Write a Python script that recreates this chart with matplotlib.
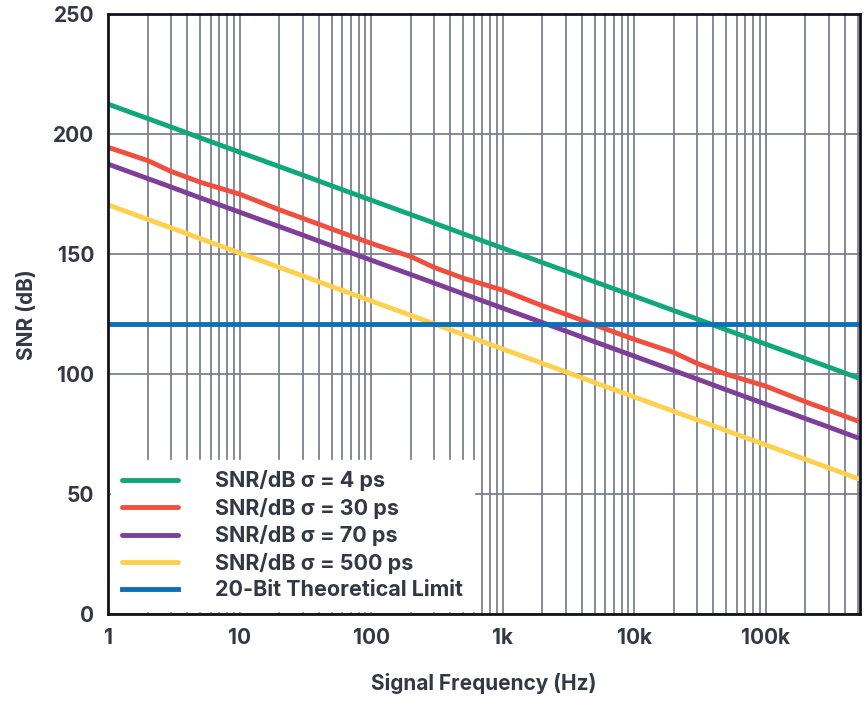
import numpy as np
import matplotlib.pyplot as plt
from matplotlib.ticker import FixedLocator, NullFormatter

freq = [1, 2, 3, 5, 10, 20, 30, 50, 100, 200, 300, 500, 1e3, 2e3, 3e3, 5e3, 1e4,
        2e4, 3e4, 5e4, 1e5, 2e5, 3e5, 5e5]
snr_4ps = [212.5, 206.5, 203, 198.5, 192.5, 186.5, 183, 178.5, 172.5, 166.5, 163,
           158.5, 152.5, 146.5, 143, 138.5, 132.5, 126.5, 123, 118.5, 112.5, 106.5, 103, 98.5]
snr_30ps = [194.5, 189, 184.5, 180, 175, 168.5, 165, 160.5, 154.5, 149, 144.5, 140,
            135, 128.5, 125, 120.5, 114.5, 109, 104.5, 100, 95, 88.5, 85, 80.5]
snr_70ps = [187.5, 181.5, 178, 173.5, 167.5, 161.5, 158, 153.5, 147.5, 141.5, 138,
            133.5, 127.5, 121.5, 118, 113.5, 107.5, 101.5, 98, 93.5, 87.5, 81.5, 78, 73.5]
snr_500ps = [170.5, 164.5, 161, 156.5, 150.5, 144.5, 141, 136.5, 130.5, 124.5, 121,
             116.5, 110.5, 104.5, 101, 96.5, 90.5, 84.5, 81, 76.5, 70.5, 64.5, 61, 56.5]
limit_20bit = 121

text_c = "#333846"
plt.rcParams["font.family"] = "Inter"

fig = plt.figure(figsize=(8.66, 7.10), dpi=100)
ax = fig.add_axes([0.125, 0.135, 0.868, 0.845])

ax.set_xscale("log")
ax.set_xlim(1, 5.2e5)
ax.set_ylim(0, 250)

series = [
    (snr_4ps, "#10a77b", "SNR/dB \u03c3 = 4 ps"),
    (snr_30ps, "#f04e3e", "SNR/dB \u03c3 = 30 ps"),
    (snr_70ps, "#7f3f98", "SNR/dB \u03c3 = 70 ps"),
    (snr_500ps, "#fdd04e", "SNR/dB \u03c3 = 500 ps"),
]
for vals, col, lab in series:
    ax.plot(freq, vals, color=col, lw=3.5, label=lab, solid_capstyle="round")
ax.axhline(limit_20bit, color="#0a70b8", lw=3.5, label="20-Bit Theoretical Limit")

minors = [m * 10 ** e for e in range(6) for m in range(2, 10)]
ax.xaxis.set_minor_locator(FixedLocator(minors))
ax.xaxis.set_minor_formatter(NullFormatter())
ax.set_xticks([1, 10, 100, 1e3, 1e4, 1e5])
ax.set_xticklabels(["1", "10", "100", "1k", "10k", "100k"])
ax.set_yticks(range(0, 251, 50))
ax.grid(True, which="both", axis="x", color="#7d8190", lw=1.3)
ax.grid(True, which="major", axis="y", color="#7d8190", lw=1.3)
ax.set_axisbelow(True)
ax.tick_params(which="both", length=0, labelsize=15, labelcolor=text_c, pad=10)
for lbl in ax.get_xticklabels() + ax.get_yticklabels():
    lbl.set_fontweight("bold")
for s in ax.spines.values():
    s.set_color("#111122"); s.set_linewidth(2)

ax.set_xlabel("Signal Frequency (Hz)", fontsize=15, fontweight="bold", color=text_c, labelpad=18)
ax.set_ylabel("SNR (dB)", fontsize=15, fontweight="bold", color=text_c, labelpad=12)

leg = ax.legend(loc="lower left", frameon=True, fancybox=False, edgecolor="white",
                framealpha=1, borderaxespad=0.15, handlelength=2.6, handletextpad=1.7,
                labelspacing=0.3, borderpad=0.5, prop={"size": 15.5, "weight": "bold"})
for t in leg.get_texts():
    t.set_color(text_c)

fig.savefig("out.png", dpi=100)
